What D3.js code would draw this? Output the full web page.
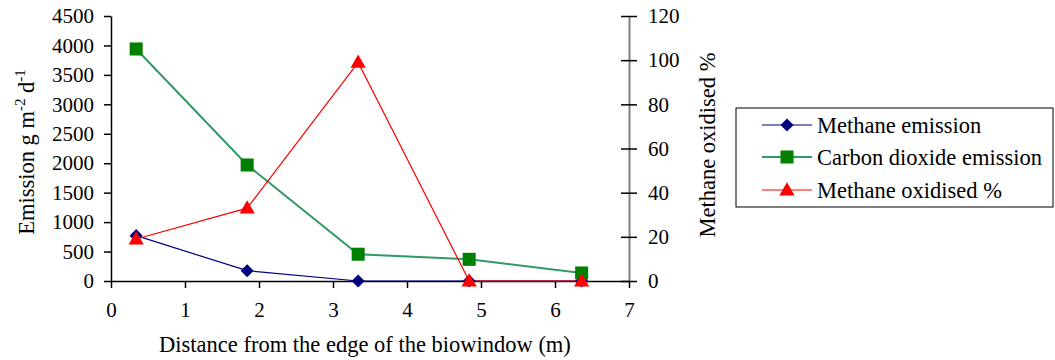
<!DOCTYPE html>
<html>
<head>
<meta charset="utf-8">
<script src="https://cdn.jsdelivr.net/npm/d3@7"></script>
<style>
  html, body { margin: 0; padding: 0; background: #fff; }
  svg { display: block; }
  svg text { font-family: "Liberation Serif", "Times New Roman", serif; fill: #000; }
</style>
</head>
<body>
<svg id="chart" width="1055" height="360"></svg>
<script>
// Distance from the edge of the biowindow (m)
const distances = [0.34, 1.84, 3.34, 4.84, 6.36];
// Emission, g m-2 d-1 (left axis)
const methaneEmission = [770, 175, 0, 0, 0];
const co2Emission = [3940, 1970, 455, 368, 136];
// Methane oxidised, % (right axis)
const methaneOxidised = [19, 33, 99, 0, 0];

const xTicks = [0, 1, 2, 3, 4, 5, 6, 7];
const leftTicks = [0, 500, 1000, 1500, 2000, 2500, 3000, 3500, 4000, 4500];
const rightTicks = [0, 20, 40, 60, 80, 100, 120];
const legendLabels = ["Methane emission", "Carbon dioxide emission", "Methane oxidised %"];

const svg = d3.select("#chart");
const TICK_FS = 21;
const FS = 22.5;
const fmt = d3.format("d");

const plot = { left: 111, right: 629, top: 16, bottom: 281 };

const x = d3.scaleLinear().domain([0, 7]).range([plot.left, plot.right]);
const yL = d3.scaleLinear().domain([0, 4500]).range([plot.bottom, plot.top]);
const yR = d3.scaleLinear().domain([0, 120]).range([plot.bottom, plot.top]);

function styleTicks(g) {
  g.attr("font-family", null).attr("font-size", null);
  g.selectAll(".tick text").style("font-family", "'Liberation Serif', serif")
    .style("font-size", TICK_FS + "px").attr("fill", "#000");
}

// Left axis
const gL = svg.append("g").attr("transform", `translate(${plot.left},0)`)
  .call(d3.axisLeft(yL).tickValues(leftTicks).tickFormat(fmt).tickSize(7).tickSizeOuter(0).tickPadding(10));
gL.select(".domain").attr("stroke", "#000").attr("stroke-width", 1.5);
gL.selectAll(".tick line").attr("stroke", "#000").attr("stroke-width", 1.5);
styleTicks(gL);

// Right axis (grey line, ticks crossing it)
const gR = svg.append("g").attr("transform", `translate(${plot.right},0)`)
  .call(d3.axisRight(yR).tickValues(rightTicks).tickFormat(fmt).tickSize(8).tickSizeOuter(0).tickPadding(11));
gR.select(".domain").attr("stroke", "#808080").attr("stroke-width", 2);
gR.selectAll(".tick line").attr("x1", -8).attr("stroke", "#000").attr("stroke-width", 1.5);
styleTicks(gR);

// Bottom axis
const gX = svg.append("g").attr("transform", `translate(0,${plot.bottom})`)
  .call(d3.axisBottom(x).tickValues(xTicks).tickFormat(fmt).tickSize(7).tickSizeOuter(0).tickPadding(14));
gX.select(".domain").attr("stroke", "#000").attr("stroke-width", 1.5);
gX.selectAll(".tick line").attr("stroke", "#000").attr("stroke-width", 1.5);
styleTicks(gX);

// Axis titles
svg.append("text")
  .attr("x", 365).attr("y", 352)
  .attr("text-anchor", "middle").style("font-size", FS + "px")
  .text("Distance from the edge of the biowindow (m)");

const lt = svg.append("text")
  .attr("transform", "translate(34,152) rotate(-90)")
  .attr("text-anchor", "middle").style("font-size", FS + "px");
lt.append("tspan").text("Emission g  m");
lt.append("tspan").attr("dy", -9).style("font-size", "15px").text("-2");
lt.append("tspan").attr("dy", 9).text(" d");
lt.append("tspan").attr("dy", -9).style("font-size", "15px").text("-1");

svg.append("text")
  .attr("transform", "translate(715,145) rotate(-90)")
  .attr("text-anchor", "middle").style("font-size", FS + "px")
  .text("Methane oxidised %");

// Series
const series = [
  { name: legendLabels[0], values: methaneEmission, y: yL, line: "#000080", lw: 1.2, fill: "#000080", shape: d3.symbolDiamond2, size: 110 },
  { name: legendLabels[1], values: co2Emission, y: yL, line: "#339966", lw: 2, fill: "#008000", shape: d3.symbolSquare, size: 170 },
  { name: legendLabels[2], values: methaneOxidised, y: yR, line: "#FF0000", lw: 1.2, fill: "#FF0000", shape: d3.symbolTriangle, size: 100 }
];

series.forEach(s => {
  const pts = distances.map((d, i) => [x(d), s.y(s.values[i])]);
  svg.append("path")
    .attr("d", d3.line()(pts))
    .attr("fill", "none").attr("stroke", s.line).attr("stroke-width", s.lw);
});
series.forEach(s => {
  const sym = d3.symbol().type(s.shape).size(s.size);
  svg.append("g").selectAll("path").data(distances).join("path")
    .attr("transform", (d, i) => `translate(${x(d)},${s.y(s.values[i]) + (s.shape === d3.symbolTriangle ? 1 : 0)})`)
    .attr("d", sym).attr("fill", s.fill);
});

// Legend
const lg = svg.append("g");
lg.append("rect").attr("x", 736).attr("y", 108).attr("width", 317).attr("height", 99)
  .attr("fill", "#fff").attr("stroke", "#000").attr("stroke-width", 1);
const rows = [125, 157, 190];
series.forEach((s, i) => {
  const g = lg.append("g").attr("transform", `translate(0,${rows[i]})`);
  g.append("line").attr("x1", 762).attr("x2", 812).attr("y1", 0).attr("y2", 0)
    .attr("stroke", s.line).attr("stroke-width", s.lw);
  g.append("path").attr("transform", `translate(787,${s.shape === d3.symbolTriangle ? 1 : 0})`)
    .attr("d", d3.symbol().type(s.shape).size(s.size)).attr("fill", s.fill);
  g.append("text").attr("x", 817).attr("y", 0).attr("dy", "0.35em")
    .style("font-size", FS + "px").text(s.name);
});
</script>
</body>
</html>
